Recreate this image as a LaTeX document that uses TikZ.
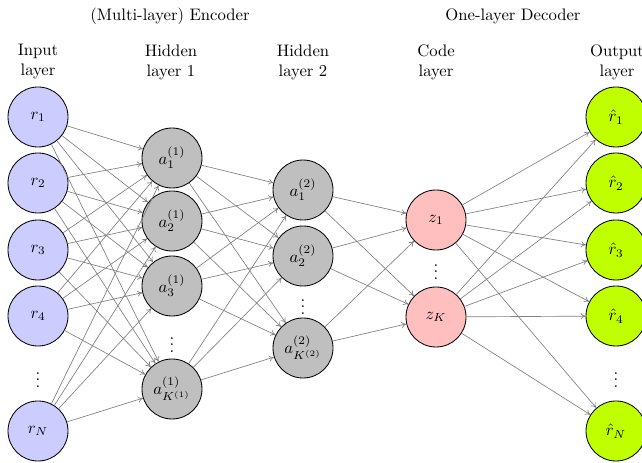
\documentclass[tikz,border=0pt]{standalone}
\usetikzlibrary{arrows.meta}
\begin{document}
\begin{tikzpicture}[x=0.6pt,y=-0.6pt,
  neuron/.style={circle,draw=black,line width=0.5pt,minimum size=36pt,inner sep=0pt},
  inp/.style={neuron,fill=blue!20},
  hid/.style={neuron,fill=gray!50},
  code/.style={neuron,fill=red!25},
  outp/.style={neuron,fill=lime},
  conn/.style={draw=gray,line width=0.4pt,-{To[length=3pt,width=3.5pt]}},
  lbl/.style={align=center,inner sep=0pt}]
\useasboundingbox (0,0) rectangle (642,463);
\clip (0,0) rectangle (642,463);
% titles
\node[lbl] (enc) at (170,16) {(Multi-layer) Encoder};
\node[lbl] (dec) at (513,16) {One-layer Decoder};
\node[lbl] (tin) at (38,62) {Input\\layer};
\node[lbl] (th1) at (171,62) {Hidden\\layer 1};
\node[lbl] (th2) at (303,62) {Hidden\\layer 2};
\node[lbl] (tc) at (436,62) {Code\\layer};
\node[lbl] (to) at (617,62) {Output\\layer};
% input
\node[inp] (r1) at (38,117) {$r_1$};
\node[inp] (r2) at (38,183) {$r_2$};
\node[inp] (r3) at (38,250) {$r_3$};
\node[inp] (r4) at (38,316) {$r_4$};
\node (rd) at (38,375) {$\vdots$};
\node[inp] (rN) at (38,431) {$r_N$};
% hidden 1
\node[hid] (a1) at (172,158) {$a_1^{(1)}$};
\node[hid] (a2) at (172,221) {$a_2^{(1)}$};
\node[hid] (a3) at (172,286) {$a_3^{(1)}$};
\node (ad) at (172,340) {$\vdots$};
\node[hid] (aK) at (172,389) {$a_{K^{(1)}}^{(1)}$};
% hidden 2
\node[hid] (b1) at (303,190) {$a_1^{(2)}$};
\node[hid] (b2) at (303,256) {$a_2^{(2)}$};
\node (bd) at (303,302) {$\vdots$};
\node[hid] (bK) at (303,348) {$a_{K^{(2)}}^{(2)}$};
% code
\node[code] (z1) at (436,220) {$z_1$};
\node (zd) at (436,267) {$\vdots$};
\node[code] (zK) at (436,317) {$z_K$};
% output
\node[outp] (o1) at (616,117) {$\hat{r}_1$};
\node[outp] (o2) at (616,183) {$\hat{r}_2$};
\node[outp] (o3) at (616,250) {$\hat{r}_3$};
\node[outp] (o4) at (616,316) {$\hat{r}_4$};
\node (od) at (616,375) {$\vdots$};
\node[outp] (oN) at (616,431) {$\hat{r}_N$};
% connections
\foreach \s in {r1,r2,r3,r4,rN}
  \foreach \t in {a1,a2,a3,aK}
    \draw[conn] (\s) -- (\t);
\foreach \s in {a1,a2,a3,aK}
  \foreach \t in {b1,b2,bK}
    \draw[conn] (\s) -- (\t);
\foreach \s in {b1,b2,bK}
  \foreach \t in {z1,zK}
    \draw[conn] (\s) -- (\t);
\foreach \s in {z1,zK}
  \foreach \t in {o1,o2,o3,o4,oN}
    \draw[conn] (\s) -- (\t);
\end{tikzpicture}
\end{document}
